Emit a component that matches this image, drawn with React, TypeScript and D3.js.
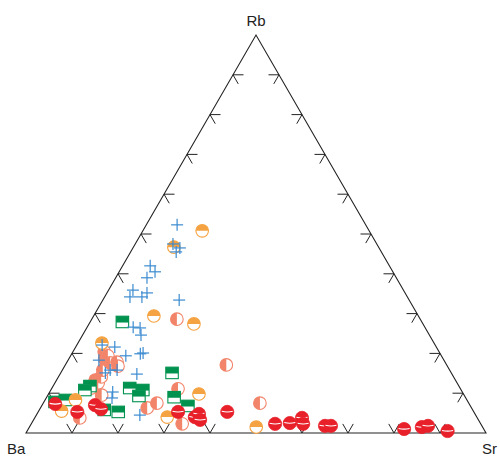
import React from "react";
import * as d3 from "d3";

// Ternary compositions [Ba, Rb, Sr] in percent
const crossPts: number[][] = [
  [41.0, 52.3, 6.7], [44.3, 47.5, 8.2], [43.3, 46.5, 10.2], [44.6, 45.5, 9.9],
  [52.0, 42.0, 6.0], [51.7, 40.5, 7.8], [54.2, 39.0, 6.8], [58.8, 35.9, 5.3],
  [56.1, 35.2, 8.7], [57.7, 34.2, 8.1], [60.3, 34.2, 5.5], [50.0, 33.4, 16.6],
  [63.4, 26.6, 10.0], [62.0, 26.4, 11.6], [62.7, 24.6, 12.7], [69.9, 21.6, 8.5],
  [68.6, 19.4, 12.0], [65.2, 19.9, 14.9], [64.5, 20.1, 15.4], [68.5, 14.8, 16.7],
  [76.0, 10.3, 13.7], [76.9, 8.8, 14.3], [73.0, 4.5, 22.5], [75.2, 15.1, 9.7],
  [73.8, 15.8, 10.4], [72.3, 15.8, 11.9], [72.4, 22.1, 5.5], [75.0, 18.3, 6.7],
];

const orangePts: number[][] = [
  [36.3, 50.8, 12.9], [44.5, 46.7, 8.8], [57.5, 29.4, 13.1], [49.8, 27.4, 22.8],
  [72.2, 22.6, 5.2], [85.1, 8.3, 6.6], [89.5, 5.5, 5.0], [57.5, 9.8, 32.7],
  [67.3, 4.0, 28.7], [49.2, 1.5, 49.3],
];

const salmonPts: number[][] = [
  [52.9, 28.6, 18.5], [47.9, 17.1, 35.0], [45.4, 7.5, 47.1], [61.4, 11.1, 27.5],
  [67.8, 7.5, 24.7], [70.5, 6.3, 23.2], [64.9, 2.3, 32.8], [86.4, 3.8, 9.8],
  [72.5, 19.4, 8.1], [71.3, 17.8, 10.9], [75.4, 15.8, 8.8], [76.6, 14.1, 9.3],
  [72.9, 17.6, 9.5], [80.1, 11.3, 8.6], [78.8, 9.5, 11.7], [72.8, 20.4, 6.8],
  [78.0, 12.6, 9.4], [71.6, 16.8, 11.6], [73.6, 18.6, 7.8], [78.3, 13.3, 8.4],
  [73.0, 19.6, 7.4],
];

const greenPts: number[][] = [
  [65.1, 27.9, 7.0], [60.7, 15.1, 24.2], [80.2, 11.8, 8.0], [81.8, 10.8, 7.4],
  [71.8, 11.3, 16.9], [69.2, 10.8, 20.0], [70.8, 9.3, 19.9], [63.3, 9.0, 27.7],
  [61.4, 6.8, 31.8], [77.3, 5.3, 17.4], [80.1, 5.8, 14.1], [89.8, 7.8, 2.4],
  [87.3, 8.3, 4.4],
];

const redPts: number[][] = [
  [90.0, 7.3, 2.7], [86.2, 5.3, 8.5], [81.5, 7.0, 11.5], [80.7, 6.0, 13.3],
  [64.3, 5.3, 30.4], [61.3, 4.0, 34.7], [60.0, 4.8, 35.2], [60.5, 3.3, 36.2],
  [53.6, 5.3, 41.1], [44.7, 2.3, 53.0], [41.4, 2.5, 56.1], [38.1, 3.8, 58.1],
  [38.6, 2.3, 59.1], [34.1, 1.8, 64.1], [32.8, 1.8, 65.4], [17.3, 1.0, 81.7],
  [13.2, 1.5, 85.3], [11.7, 1.8, 86.5], [8.1, 0.5, 91.4],
];

const vertexLabels = ["Ba", "Rb", "Sr"];
const tickValues = [10, 20, 30, 40, 50, 60, 70, 80, 90];

const W = 500;
const H = 457;
const xs = d3.scaleLinear().domain([0, 100]).range([26, 486]);
const ys = d3.scaleLinear().domain([0, 100]).range([433, 35]);

function proj(p: number[]): [number, number] {
  const [ba, rb, sr] = p;
  const t = ba + rb + sr;
  const r = (rb / t) * 100;
  const s = (sr / t) * 100;
  return [xs(s + r / 2), ys(r)];
}

const C_RED = "#e8202a";
const C_OR = "#f5a342";
const C_SAL = "#f2846a";
const C_GR = "#00924e";
const C_BL = "#3b8bd0";

const R = 6.3;

export default function App() {
  const A = proj([100, 0, 0]);
  const B = proj([0, 0, 100]);
  const Cc = proj([0, 100, 0]);

  const tickLen = 10.5;
  const ticks: any[] = [];
  const deg = Math.PI / 180;
  const edges = [
    { from: [100, 0, 0], to: [0, 0, 100], normal: 90 },
    { from: [100, 0, 0], to: [0, 100, 0], normal: -30 },
    { from: [0, 0, 100], to: [0, 100, 0], normal: -150 },
  ];
  edges.forEach((e, ei) => {
    tickValues.forEach((v) => {
      const f = v / 100;
      const p = e.from.map((a, i) => a * (1 - f) + e.to[i] * f);
      const [px, py] = proj(p);
      [-30, 30].forEach((da, k) => {
        const ang = (e.normal + da) * deg;
        ticks.push(
          <line
            key={`t${ei}-${v}-${k}`}
            x1={px}
            y1={py}
            x2={px + tickLen * Math.cos(ang)}
            y2={py - tickLen * Math.sin(ang)}
            stroke="#222"
            strokeWidth={1}
          />
        );
      });
    });
  });

  const semi = (cx: number, cy: number, r: number, side: "top" | "left") =>
    side === "top"
      ? `M${cx - r},${cy} A${r},${r} 0 0 1 ${cx + r},${cy} Z`
      : `M${cx},${cy - r} A${r},${r} 0 0 0 ${cx},${cy + r} Z`;

  const salmonXY = salmonPts.map(proj).sort((a, b) => a[0] - b[0]);

  return (
    <svg
      width={W}
      height={H}
      style={{ position: "absolute", left: 0, top: 0, background: "#fff" }}
      fontFamily="Liberation Sans, Arial, Helvetica, sans-serif"
    >
      <rect width={W} height={H} fill="#fff" />
      <polygon
        points={[A, B, Cc].map((p) => p.join(",")).join(" ")}
        fill="none"
        stroke="#222"
        strokeWidth={1.1}
      />
      {ticks}

      {salmonXY.map(([x, y], i) => (
        <g key={`s${i}`}>
          <circle cx={x} cy={y} r={R} fill="#fff" />
          <path d={semi(x, y, R, "left")} fill={C_SAL} />
          <circle cx={x} cy={y} r={R} fill="none" stroke={C_SAL} strokeWidth={1.1} />
        </g>
      ))}
      {greenPts.map((p, i) => {
        const [x, y] = proj(p);
        const w = 12.5, h = 11.5;
        return (
          <g key={`g${i}`}>
            <rect x={x - w / 2} y={y - h / 2} width={w} height={h} fill="#fff" stroke={C_GR} strokeWidth={1.1} />
            <rect x={x - w / 2} y={y - h / 2} width={w} height={h * 0.55} fill={C_GR} />
          </g>
        );
      })}
      {orangePts.map((p, i) => {
        const [x, y] = proj(p);
        return (
          <g key={`o${i}`}>
            <circle cx={x} cy={y} r={R} fill="#fff" />
            <path d={semi(x, y, R, "top")} fill={C_OR} />
            <circle cx={x} cy={y} r={R} fill="none" stroke={C_OR} strokeWidth={1.1} />
          </g>
        );
      })}
      {redPts.map((p, i) => {
        const [x, y] = proj(p);
        return (
          <g key={`r${i}`}>
            <circle cx={x} cy={y} r={R + 0.3} fill={C_RED} stroke={C_RED} strokeWidth={0.8} />
            <path
              d={`M${x - R + 0.8},${y - 0.6} Q${x},${y + 0.9} ${x + R - 0.8},${y - 0.6}`}
              fill="none"
              stroke="#fff"
              strokeWidth={1.1}
            />
          </g>
        );
      })}
      {crossPts.map((p, i) => {
        const [x, y] = proj(p);
        const a = 6;
        return (
          <g key={`c${i}`} stroke={C_BL} strokeWidth={1.2}>
            <line x1={x - a} y1={y} x2={x + a} y2={y} />
            <line x1={x} y1={y - a} x2={x} y2={y + a} />
          </g>
        );
      })}

      <text x={Cc[0]} y={26} textAnchor="middle" fontSize={15} fill="#222">
        {vertexLabels[1]}
      </text>
      <text x={A[0] - 19} y={454} fontSize={15} fill="#222">
        {vertexLabels[0]}
      </text>
      <text x={B[0] - 4} y={454} fontSize={15} fill="#222">
        {vertexLabels[2]}
      </text>
    </svg>
  );
}
